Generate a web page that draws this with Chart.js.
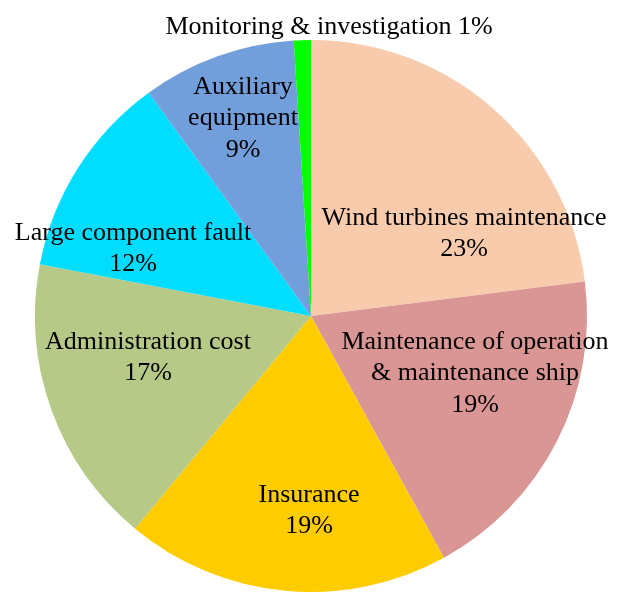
<!DOCTYPE html>
<html>
<head>
<meta charset="utf-8">
<script src="https://cdn.jsdelivr.net/npm/chart.js@4.4.0/dist/chart.umd.min.js"></script>
<style>
  html, body { margin: 0; padding: 0; background: #ffffff; }
  #wrap { width: 635px; height: 602px; }
</style>
</head>
<body>
<div id="wrap"><canvas id="c" width="635" height="602"></canvas></div>
<script>
// ---- data ----
const categories = [
  "Wind turbines maintenance",
  "Maintenance of operation & maintenance ship",
  "Insurance",
  "Administration cost",
  "Large component fault",
  "Auxiliary equipment",
  "Monitoring & investigation"
];
const shares = [23, 19, 19, 17, 12, 9, 1];
const percentLabels = ["23%", "19%", "19%", "17%", "12%", "9%", "1%"];

// ---- styling / layout (kept separate from data) ----
const colors = ["#F8CBAD", "#DA9694", "#FFCC00", "#B6C986", "#00DDFF", "#729FDC", "#00FF00"];
// label lines per slice and placement (offset from pie centre, px)
const labelLines = [
  ["Wind turbines maintenance", "23%"],
  ["Maintenance of operation", "& maintenance ship", "19%"],
  ["Insurance", "19%"],
  ["Administration cost", "17%"],
  ["Large component fault", "12%"],
  ["Auxiliary", "equipment", "9%"],
  ["Monitoring & investigation 1%"]
];
const labelOffsets = [
  [153, -98], [164, 26], [-2, 179], [-163, 26], [-178, -83], [-68, -229], [18, -289]
];
const lineHeight = 31.5;
const fontSpec = "26px 'Liberation Serif', 'Times New Roman', serif";

const labelPlugin = {
  id: 'sliceLabels',
  afterDatasetsDraw(chart) {
    const ctx = chart.ctx;
    const meta = chart.getDatasetMeta(0);
    const arc0 = meta.data[0];
    const cx = arc0.x, cy = arc0.y;
    ctx.save();
    ctx.font = fontSpec;
    ctx.fillStyle = "#000000";
    ctx.textAlign = "center";
    ctx.textBaseline = "middle";
    labelLines.forEach((lines, i) => {
      const [ox, oy] = labelOffsets[i];
      lines.forEach((t, k) => {
        ctx.fillText(t, cx + ox, cy + oy + k * lineHeight);
      });
    });
    ctx.restore();
  }
};

new Chart(document.getElementById('c'), {
  type: 'pie',
  data: {
    labels: categories,
    datasets: [{
      data: shares,
      backgroundColor: colors,
      borderWidth: 0
    }]
  },
  options: {
    responsive: false,
    devicePixelRatio: 1,
    animation: false,
    layout: { padding: { left: 35, right: 48, top: 40, bottom: 10 } },
    plugins: {
      legend: { display: false },
      tooltip: { enabled: false }
    }
  },
  plugins: [labelPlugin]
});
</script>
</body>
</html>
